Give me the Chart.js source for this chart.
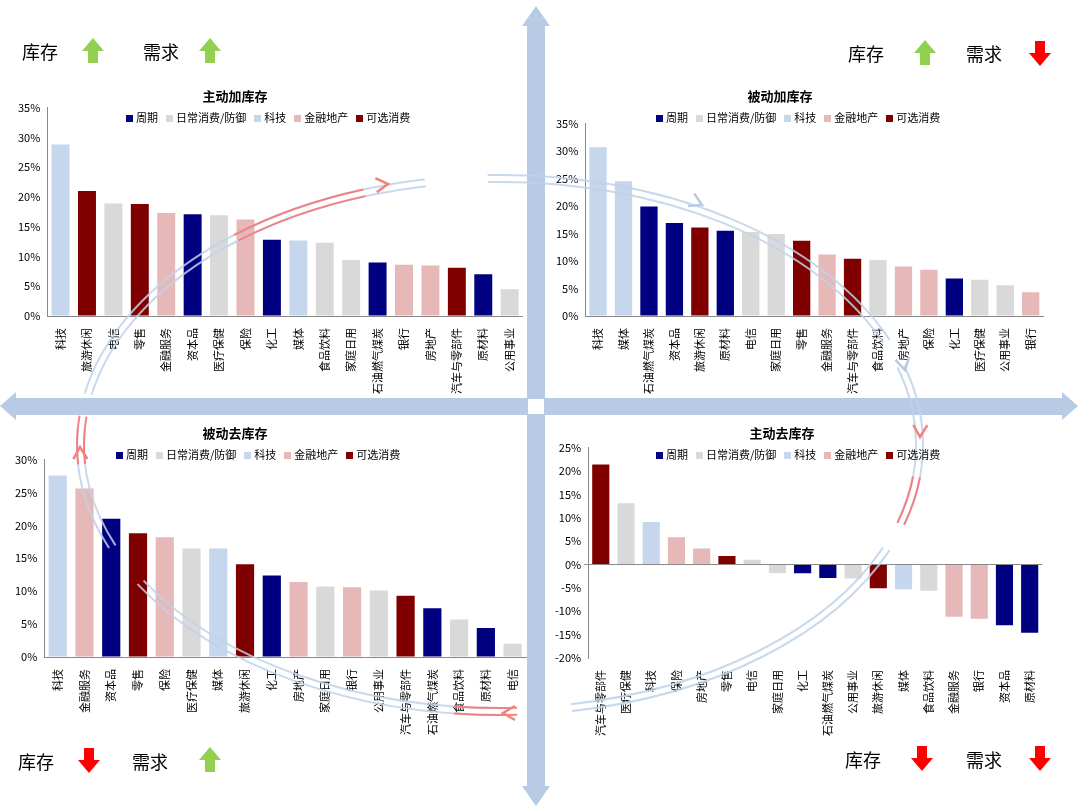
<!DOCTYPE html>
<html><head><meta charset="utf-8">
<script src="https://cdn.jsdelivr.net/npm/chart.js@4"></script>
<style>
body{margin:0;background:#fff;font-family:"Noto Sans CJK SC",sans-serif;}
#wrap{position:relative;width:1080px;height:812px;}
.box{position:absolute;}
.ttl{position:absolute;font-size:13px;font-weight:bold;color:#000;text-align:center;}
.lg{position:absolute;font-size:11px;color:#000;white-space:nowrap;}
.lg i{display:inline-block;width:7px;height:7px;margin:0 3px 0 8px;}
.hd{position:absolute;font-size:18px;color:#000;}
canvas.ov{position:absolute;left:0;top:0;pointer-events:none;}
</style></head>
<body><div id="wrap">
<canvas id="bg" class="ov" width="1080" height="812"></canvas>
<div class="box" style="left:15px;top:98px;width:512px;height:300px"><canvas id="c1"></canvas></div>
<div class="box" style="left:553px;top:114px;width:495px;height:284px"><canvas id="c2"></canvas></div>
<div class="box" style="left:12px;top:450px;width:518px;height:289px"><canvas id="c3"></canvas></div>
<div class="box" style="left:552px;top:438px;width:495px;height:302px"><canvas id="c4"></canvas></div>
<canvas id="fg" class="ov" width="1080" height="812"></canvas>
</div>
<script>
// group colours
const groupNames = ['周期', '日常消费/防御', '科技', '金融地产', '可选消费'];
const groupColors = {'周期': '#000080', '日常消费/防御': '#D9D9D9', '科技': '#C6D6EC', '金融地产': '#E6B8B7', '可选消费': '#800000'};
const industryGroup = {
  '科技': '科技', '媒体': '科技',
  '旅游休闲': '可选消费', '零售': '可选消费', '汽车与零部件': '可选消费',
  '电信': '日常消费/防御', '医疗保健': '日常消费/防御', '食品饮料': '日常消费/防御', '家庭日用': '日常消费/防御', '公用事业': '日常消费/防御',
  '金融服务': '金融地产', '保险': '金融地产', '银行': '金融地产', '房地产': '金融地产',
  '资本品': '周期', '化工': '周期', '石油燃气煤炭': '周期', '原材料': '周期'
};

// 主动加库存
const labelsA = ['科技','旅游休闲','电信','零售','金融服务','资本品','医疗保健','保险','化工','媒体','食品饮料','家庭日用','石油燃气煤炭','银行','房地产','汽车与零部件','原材料','公用事业'];
const valuesA = [28.8,21.0,18.9,18.8,17.3,17.1,16.9,16.2,12.8,12.7,12.3,9.4,9.0,8.6,8.5,8.1,7.0,4.5];
// 被动加库存
const labelsB = ['科技','媒体','石油燃气煤炭','资本品','旅游休闲','原材料','电信','家庭日用','零售','金融服务','汽车与零部件','食品饮料','房地产','保险','化工','医疗保健','公用事业','银行'];
const valuesB = [30.7,24.5,19.9,16.9,16.1,15.5,15.3,14.9,13.7,11.2,10.4,10.2,9.0,8.4,6.8,6.6,5.6,4.3];
// 被动去库存
const labelsC = ['科技','金融服务','资本品','零售','保险','医疗保健','媒体','旅游休闲','化工','房地产','家庭日用','银行','公用事业','汽车与零部件','石油燃气煤炭','食品饮料','原材料','电信'];
const valuesC = [27.6,25.6,21.0,18.8,18.2,16.5,16.5,14.1,12.4,11.4,10.7,10.6,10.1,9.3,7.4,5.7,4.4,2.0];
// 主动去库存
const labelsD = ['汽车与零部件','医疗保健','科技','保险','房地产','零售','电信','家庭日用','化工','石油燃气煤炭','公用事业','旅游休闲','媒体','食品饮料','金融服务','银行','资本品','原材料'];
const valuesD = [21.4,13.1,9.1,5.8,3.4,1.8,1.0,-1.8,-1.9,-2.9,-3.0,-5.1,-5.3,-5.6,-11.2,-11.6,-13.0,-14.6];

const FONT = '"Noto Sans CJK SC", sans-serif';
Chart.defaults.font.family = FONT;
Chart.defaults.color = '#000';

function makeChart(id, labels, values, min, max, step) {
  return new Chart(document.getElementById(id), {
    type: 'bar',
    data: {
      labels: labels,
      datasets: [{
        data: values,
        backgroundColor: labels.map(l => groupColors[industryGroup[l]]),
        categoryPercentage: 0.68,
        barPercentage: 1
      }]
    },
    options: {
      responsive: true,
      maintainAspectRatio: false,
      animation: false,
      layout: {padding: {top: 4, right: 4}},
      plugins: {legend: {display: false}, tooltip: {enabled: false}},
      scales: {
        x: {
          grid: {display: false},
          border: {display: min === 0, color: '#888'},
          ticks: {font: {size: 11}, minRotation: 90, maxRotation: 90, autoSkip: false, padding: 4}
        },
        y: {
          min: min, max: max,
          border: {color: '#888'},
          grid: {drawOnChartArea: true, drawTicks: true, tickLength: 4,
                 color: c => (c.tick.value === 0 && min < 0) ? '#888' : 'rgba(0,0,0,0)'},
          ticks: {stepSize: step, font: {size: 11}, callback: v => v + '%'}
        }
      }
    }
  });
}
makeChart('c1', labelsA, valuesA, 0, 35, 5);
makeChart('c2', labelsB, valuesB, 0, 35, 5);
makeChart('c3', labelsC, valuesC, 0, 30, 5);
makeChart('c4', labelsD, valuesD, -20, 25, 5);

// titles and legends
const wrap = document.getElementById('wrap');
function addText(cls, html, x, y, w) {
  const d = document.createElement('div');
  d.className = cls; d.innerHTML = html;
  d.style.left = x + 'px'; d.style.top = y + 'px';
  if (w) d.style.width = w + 'px';
  wrap.appendChild(d);
}
const legendHtml = groupNames.map(g => `<i style="background:${groupColors[g]}"></i>${g}`).join('');
[['主动加库存', 195, 86, 118, 109], ['被动加库存', 740, 86, 648, 109],
 ['被动去库存', 195, 423, 108, 446], ['主动去库存', 742, 423, 648, 446]].forEach(t => {
  addText('ttl', t[0], t[1], t[2], 80);
  addText('lg', legendHtml, t[3], t[4]);
});
[['库存', 22, 38], ['需求', 143, 38], ['库存', 848, 40], ['需求', 966, 40],
 ['库存', 18, 748], ['需求', 132, 748], ['需求', 966, 746], ['库存', 845, 746]].forEach(t => addText('hd', t[0], t[1], t[2]));

// background cross arrows
const bg = document.getElementById('bg').getContext('2d');
bg.fillStyle = '#B7CCE4';
bg.fillRect(527, 22, 18, 768);
bg.fillRect(12, 398, 1052, 17);
bg.beginPath(); bg.moveTo(536, 6); bg.lineTo(522, 26); bg.lineTo(550, 26); bg.fill();
bg.beginPath(); bg.moveTo(536, 806); bg.lineTo(522, 786); bg.lineTo(550, 786); bg.fill();
bg.beginPath(); bg.moveTo(0, 406); bg.lineTo(16, 392); bg.lineTo(16, 420); bg.fill();
bg.beginPath(); bg.moveTo(1078, 406); bg.lineTo(1062, 392); bg.lineTo(1062, 420); bg.fill();
bg.fillStyle = '#fff';
bg.fillRect(528, 399, 16, 15);

// foreground: cycle ellipse and small arrows
const fg = document.getElementById('fg').getContext('2d');
function ell(rx, ry, color, w, a0, a1) {
  fg.strokeStyle = color; fg.lineWidth = w;
  fg.beginPath(); fg.ellipse(500, 445, rx, ry, 0, a0, a1); fg.stroke();
}
const segs = [[-2.95, -1.75], [-1.6, -0.4], [-0.3, 0.3], [0.4, 1.4], [1.55, 2.6], [2.75, 3.2]];
segs.forEach(s => { ell(423, 270, 'rgba(190,210,235,0.85)', 2, s[0], s[1]); ell(416, 263, 'rgba(190,210,235,0.85)', 2, s[0], s[1]); });
[[-2.25, -1.9], [0.12, 0.3], [1.53, 1.68], [3.07, 3.25]].forEach(s => { ell(423, 270, 'rgba(245,120,120,0.9)', 2, s[0], s[1]); ell(416, 263, 'rgba(245,120,120,0.9)', 2, s[0], s[1]); });
function head(x, y, ang, color) {
  fg.save(); fg.translate(x, y); fg.rotate(ang);
  fg.strokeStyle = color; fg.lineWidth = 2.5;
  fg.beginPath(); fg.moveTo(-12, -7); fg.lineTo(0, 0); fg.lineTo(-12, 7); fg.stroke();
  fg.restore();
}
head(388, 184, -0.1, '#F58080');
head(702, 205, 0.45, '#B7CCE4');
head(920, 437, 1.6, '#F58080');
head(905, 370, 1.35, '#B7CCE4');
head(503, 713, 3.14, '#F58080');
head(80, 447, -1.6, '#F58080');

// up/down markers
function arrow(x, y, up, color) {
  fg.fillStyle = color;
  fg.beginPath();
  if (up) { fg.moveTo(x, y - 13); fg.lineTo(x - 11, y); fg.lineTo(x - 5, y); fg.lineTo(x - 5, y + 12); fg.lineTo(x + 5, y + 12); fg.lineTo(x + 5, y); fg.lineTo(x + 11, y); }
  else { fg.moveTo(x, y + 13); fg.lineTo(x - 11, y); fg.lineTo(x - 5, y); fg.lineTo(x - 5, y - 12); fg.lineTo(x + 5, y - 12); fg.lineTo(x + 5, y); fg.lineTo(x + 11, y); }
  fg.fill();
}
const G = '#92D050', R = '#FF0000';
arrow(93, 51, true, G); arrow(210, 51, true, G);
arrow(925, 53, true, G); arrow(1040, 53, false, R);
arrow(89, 760, false, R); arrow(210, 760, true, G);
arrow(922, 758, false, R); arrow(1040, 758, false, R);
</script>
</body></html>
